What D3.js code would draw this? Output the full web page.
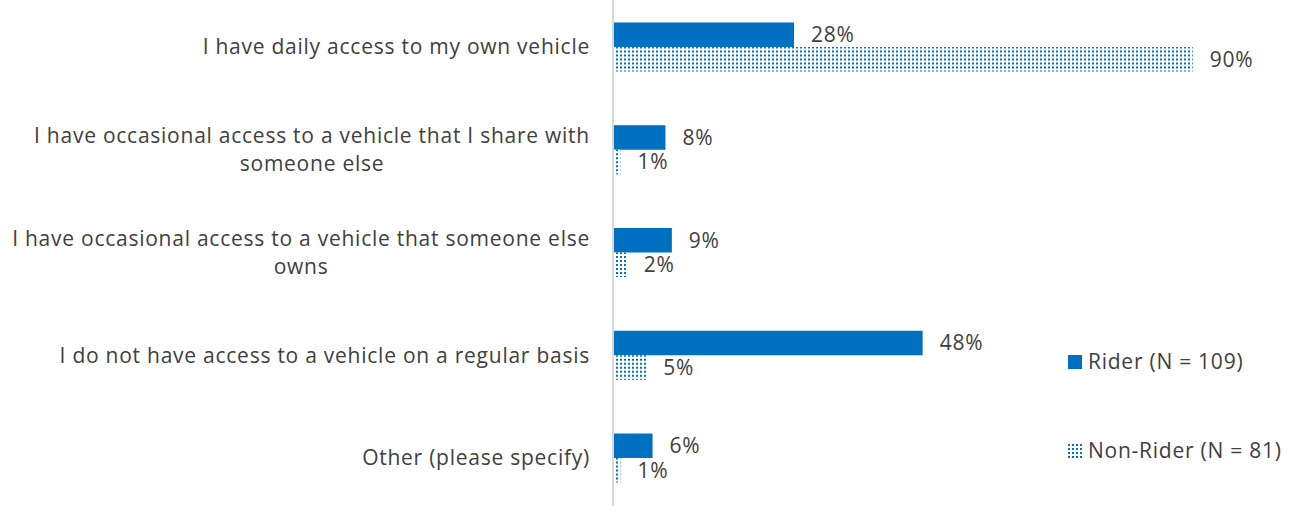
<!DOCTYPE html>
<html>
<head>
<meta charset="utf-8">
<script src="https://cdn.jsdelivr.net/npm/d3@7"></script>
<style>
  html, body { margin: 0; padding: 0; background: #fff; }
  svg { display: block; font-family: "Open Sans", "Liberation Sans", Arial, sans-serif; }
</style>
</head>
<body>
<svg id="chart" width="1291" height="506"></svg>
<script>
// Survey answers: vehicle access, riders vs non-riders (percent of respondents)
const categories = [
  "I have daily access to my own vehicle",
  "I have occasional access to a vehicle that I share with someone else",
  "I have occasional access to a vehicle that someone else owns",
  "I do not have access to a vehicle on a regular basis",
  "Other (please specify)"
];
const seriesNames = ["Rider (N = 109)", "Non-Rider (N = 81)"];
const riderValues = [28, 8, 9, 48, 6];
const nonRiderValues = [90, 1, 2, 5, 1];

const W = 1291, H = 506;
const svg = d3.select("#chart");
const textColor = "#404040";
const blue = "#0070C0";
const fontSize = 21;
const letterSpacing = 0.75;

// dotted fill for the non-rider series
const defs = svg.append("defs");
const pat = defs.append("pattern")
  .attr("id", "dots")
  .attr("patternUnits", "userSpaceOnUse")
  .attr("width", 4).attr("height", 4);
pat.append("rect").attr("width", 4).attr("height", 4).attr("fill", "#fff");
pat.append("rect").attr("x", 0).attr("y", 0).attr("width", 2).attr("height", 2).attr("fill", blue);

const x0 = 614;
const x = d3.scaleLinear().domain([0, 100]).range([x0, x0 + 643]);

const y = d3.scaleBand()
  .domain(categories)
  .range([-4.4, 509.4])
  .paddingInner(0.523)
  .paddingOuter(0.2615);

const ySub = d3.scaleBand()
  .domain(seriesNames)
  .range([0, y.bandwidth()])
  .padding(0);

const rows = categories.map((c, i) => ({
  cat: c,
  vals: [
    { s: seriesNames[0], v: riderValues[i] },
    { s: seriesNames[1], v: nonRiderValues[i] }
  ]
}));

const fills = { [seriesNames[0]]: blue, [seriesNames[1]]: "url(#dots)" };

// bars
const g = svg.append("g");
const grp = g.selectAll("g.cat").data(rows).join("g")
  .attr("class", "cat")
  .attr("transform", d => `translate(0,${y(d.cat)})`);

grp.selectAll("rect").data(d => d.vals).join("rect")
  .attr("x", x(0))
  .attr("y", d => ySub(d.s))
  .attr("width", d => x(d.v) - x(0))
  .attr("height", ySub.bandwidth())
  .attr("fill", d => fills[d.s]);

grp.selectAll("text.val").data(d => d.vals).join("text")
  .attr("class", "val")
  .attr("x", d => x(d.v) + 17)
  .attr("y", d => ySub(d.s) + ySub.bandwidth() / 2)
  .attr("dy", "0.35em")
  .attr("fill", textColor)
  .attr("font-size", fontSize)
  .attr("letter-spacing", letterSpacing)
  .text(d => d.v + "%");

// vertical category axis line
svg.append("line")
  .attr("x1", 613).attr("x2", 613)
  .attr("y1", 0).attr("y2", H)
  .attr("stroke", "#d9d9d9").attr("stroke-width", 2);

// category labels: wrapped, block right-aligned, lines centred within the block
const maxW = 600;
const lineH = 28;
const labelRight = 590;
const labels = svg.append("g").selectAll("text").data(categories).join("text")
  .attr("text-anchor", "middle")
  .attr("fill", textColor)
  .attr("font-size", fontSize)
  .attr("letter-spacing", letterSpacing);

labels.each(function(c) {
  const t = d3.select(this);
  const words = c.split(" ");
  const lines = [];
  let cur = [];
  const probe = t.append("tspan");
  const measure = s => { probe.text(s); return probe.node().getComputedTextLength(); };
  words.forEach(w => {
    cur.push(w);
    if (measure(cur.join(" ")) > maxW && cur.length > 1) {
      cur.pop();
      lines.push(cur.join(" "));
      cur = [w];
    }
  });
  lines.push(cur.join(" "));
  const blockW = d3.max(lines, measure);
  probe.remove();
  const cx = labelRight - blockW / 2;
  const cy = y(c) + y.bandwidth() / 2;
  const top = cy - (lines.length - 1) * lineH / 2;
  lines.forEach((l, i) => {
    t.append("tspan")
      .attr("x", cx)
      .attr("y", top + i * lineH)
      .attr("dy", "0.35em")
      .text(l);
  });
});

// legend
const legend = svg.append("g");
const legY = [362, 451];
seriesNames.forEach((s, i) => {
  legend.append("rect")
    .attr("x", 1068).attr("y", legY[i] - 7)
    .attr("width", 14).attr("height", 14)
    .attr("fill", fills[s]);
  legend.append("text")
    .attr("x", 1088).attr("y", legY[i])
    .attr("dy", "0.35em")
    .attr("fill", textColor)
    .attr("font-size", fontSize)
    .attr("letter-spacing", letterSpacing)
    .text(s);
});
</script>
</body>
</html>
